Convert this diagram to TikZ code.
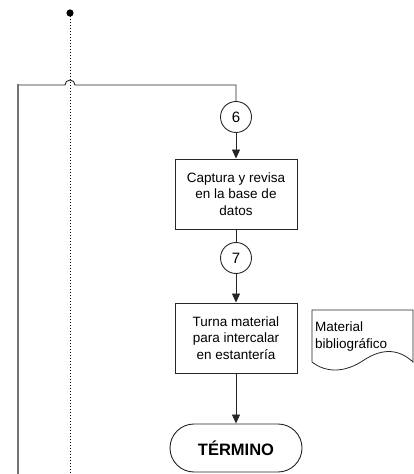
\documentclass[tikz,border=0pt]{standalone}
\usepackage{fontspec}
\setmainfont{Liberation Sans}
\usetikzlibrary{arrows.meta,shapes.misc}
\begin{document}
\begin{tikzpicture}[x=1pt,y=1pt,
  line/.style={draw=black!85,line width=0.9pt},
  arr/.style={line,-{Triangle[length=9pt,width=8pt]}},
  procbox/.style={draw=black!85,line width=0.9pt,minimum width=122pt,minimum height=70pt,align=center,
     font=\fontsize{13.5}{16.5}\selectfont,inner sep=0pt},
  conn/.style={draw=black!85,line width=0.9pt,circle,minimum size=31pt,inner sep=0pt,font=\fontsize{15}{15}\selectfont},
  term/.style={draw=black!85,line width=0.9pt,rounded rectangle,minimum width=132pt,minimum height=48pt,
     font=\fontsize{16.5}{16.5}\selectfont\bfseries,inner sep=0pt}]
\useasboundingbox (0,0) rectangle (414,474);
% dotted line with start dot
\fill[black] (70,461) circle (3.6pt) coordinate (dot);
\coordinate (dotend) at (70,0);
\draw[black,dotted,line width=1pt] (dot) -- (dotend);
% nodes
\node[conn] (c6) at (236,357) {6};
\node[procbox] (b1) at (236,280) {Captura y revisa\\en la base de\\datos};
\node[conn] (c7) at (236,216) {7};
\node[procbox] (b2) at (236,136) {Turna material\\para intercalar\\en estantería};
\node[term] (t) at (236,26) {TÉRMINO};
% feedback line from left
\coordinate (corner) at (236,389);
\coordinate (lb) at (18,0);
\draw[line] (c6.north) -- (corner) -- (75,389) arc[start angle=0,end angle=180,radius=5] -- (18,389);
\draw[draw=black!55,line width=1.6pt] (18,389.5) -- (lb);
\draw[arr] (c6) -- (b1);
\draw[line] (b1) -- (c7);
\draw[arr] (c7) -- (b2);
\draw[arr] (b2) -- (t);
% document shape
\draw[line,line width=0.8pt] (312,112) -- (312,164) -- (413,164) -- (413,112)
  .. controls (400,124) and (384,127) .. (364,114)
  .. controls (345,101) and (326,101) .. (312,112) -- cycle;
\node[anchor=north west,align=left,inner sep=0pt,font=\fontsize{13.5}{16.5}\selectfont] (doc) at (315,152) {Material\\bibliográfico};
\end{tikzpicture}
\end{document}
